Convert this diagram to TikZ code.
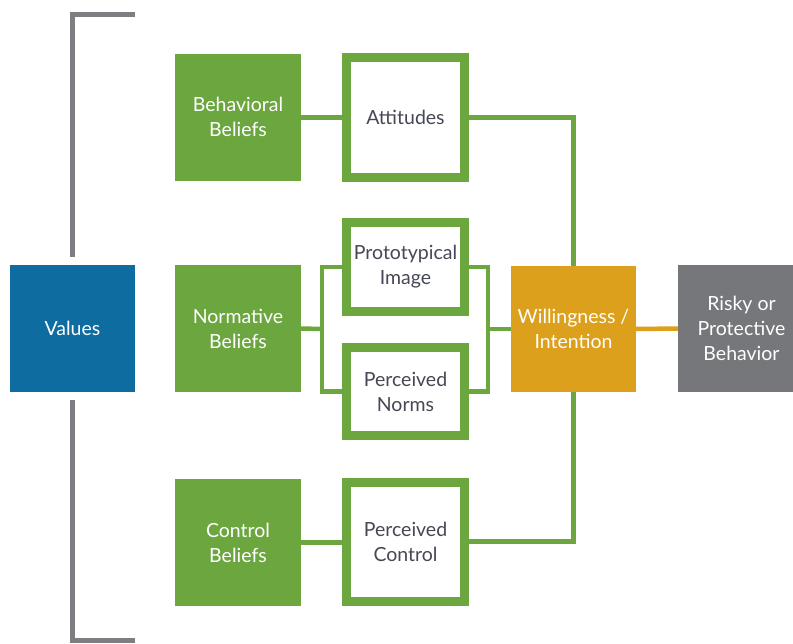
\documentclass[tikz,border=0pt]{standalone}
\usepackage{fontspec}
\setmainfont{Lato}
\definecolor{leaf}{RGB}{107,166,63}
\definecolor{ocean}{RGB}{14,108,160}
\definecolor{amber}{RGB}{220,160,28}
\definecolor{slate}{RGB}{118,119,123}
\definecolor{rail}{RGB}{125,126,130}
\definecolor{ink}{RGB}{70,72,85}
\begin{document}
\begin{tikzpicture}[x=1pt,y=-1pt,
  boxtext/.style={align=center,font=\fontsize{19.5}{25}\selectfont,inner sep=0pt,outer sep=0pt},
  solidbox/.style={boxtext,text=white,minimum width=126pt,minimum height=127pt},
  ringbox/.style={boxtext,text=ink,draw=leaf,line width=9pt,fill=white,minimum width=118.6pt},
  link/.style={draw=leaf,line width=4.5pt},
  railline/.style={draw=rail,line width=5pt}]
\useasboundingbox (0,0) rectangle (793,643);
\clip (0,0) rectangle (793,643);

% left column
\node[solidbox,fill=ocean,minimum width=125pt] (values) at (72.5,328.5) {Values};

% belief boxes
\node[solidbox,fill=leaf] (bb) at (238,117) {Behavioral\\Beliefs};
\node[solidbox,fill=leaf] (nb) at (238,328.5) {Normative\\Beliefs};
\node[solidbox,fill=leaf] (cb) at (238,542.5) {Control\\Beliefs};

% outlined boxes
\node[ringbox,minimum height=119.4pt] (att) at (405.5,117.5) {Attitudes};
\node[ringbox,minimum height=89pt] (pi) at (405.5,267) {Prototypical\\Image};
\node[ringbox,minimum height=87.7pt] (pn) at (405.5,391.7) {Perceived\\Norms};
\node[ringbox,minimum height=119pt] (pc) at (405.5,541.7) {Perceived\\Control};

% right column
\node[solidbox,fill=amber,minimum width=125pt,minimum height=126pt] (will) at (573.5,329) {Willingness /\\Intention};
\node[solidbox,fill=slate,minimum width=127pt,minimum height=127pt] (risk) at (741.5,328.5) {Risky or\\Protective\\Behavior};

% bracket around the belief column
\coordinate (rtop) at (135,14.5);
\coordinate (rtopend) at (72.5,257);
\coordinate (rbotstart) at (72.5,400);
\coordinate (rbot) at (135,640);
\draw[railline] (rtop) -| (rtopend);
\draw[railline] (rbotstart) |- (rbot);

% connectors
\coordinate (nl) at (322,329);
\coordinate (nr) at (488,329);
\draw[link] (att.west) -- (att.west -| bb.east);
\draw[link] (att.east) -| (will.north);
\draw[link] (nb.east) -- (nl);
\draw[link] (pi.west) -| (nl) |- (pn.west);
\draw[link] (pi.east) -| (nr) |- (pn.east);
\draw[link] (nr) -- (will.west);
\draw[link] (cb.east) -- (cb.east -| pc.west);
\draw[link] (pc.east) -| (will.south);
\draw[draw=amber,line width=4.5pt] (will.east) -- (risk.west);
\end{tikzpicture}
\end{document}
